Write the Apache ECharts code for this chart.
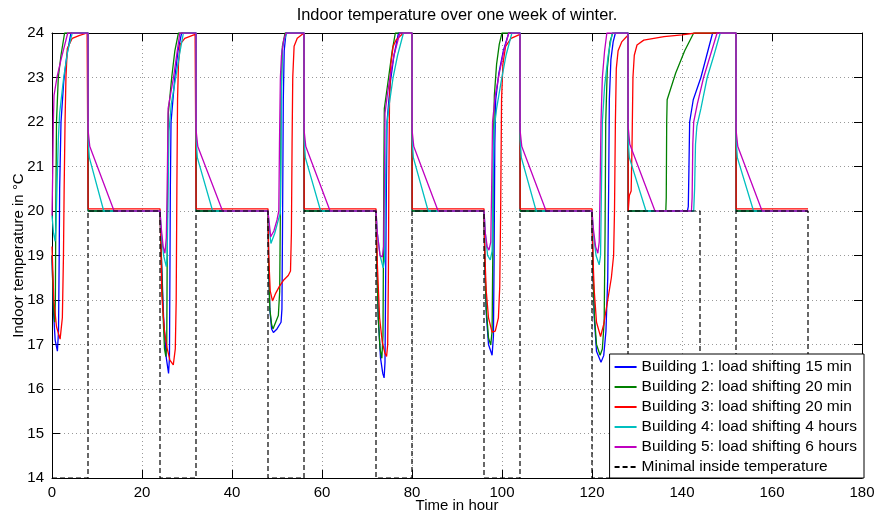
<!DOCTYPE html>
<html>
<head>
<meta charset="utf-8">
<script src="https://cdn.jsdelivr.net/npm/echarts/dist/echarts.min.js"></script>
<style>
html,body{margin:0;padding:0;background:#fff;}
#chart{width:880px;height:516px;}
</style>
</head>
<body>
<div id="chart"></div>
<script>
// ---- data (time in hour, indoor temperature in °C) ----
const titleText = 'Indoor temperature over one week of winter.';
const xName = 'Time in hour';
const yName = 'Indoor temperature in °C';
const seriesNames = [
  'Building 1: load shifting 15 min',
  'Building 2: load shifting 20 min',
  'Building 3: load shifting 20 min',
  'Building 4: load shifting 4 hours',
  'Building 5: load shifting 6 hours',
  'Minimal inside temperature'
];
const xTicks = [0, 20, 40, 60, 80, 100, 120, 140, 160, 180];
const yTicks = [14, 15, 16, 17, 18, 19, 20, 21, 22, 23, 24];

const building1 = [
  [0,19.0],[0.3,17.8],[0.7,17.1],[1.2,16.85],[1.45,17.3],[1.6,19.0],[1.7,20.5],[2.0,22.0],[2.6,22.9],[3.3,23.5],[4.2,24.0],[8,24.0],[8.03,20.0],
  [24,20.0],[24.3,19.0],[24.8,17.6],[25.4,16.7],[25.9,16.35],[26.1,16.7],[26.2,18.5],[26.3,20.5],[26.45,22.0],[27.3,23.0],[28.0,23.6],[28.8,24.0],[32,24.0],[32.03,20.0],
  [48,20.0],[48.15,18.8],[48.4,17.8],[48.8,17.35],[49.2,17.27],[50.0,17.35],[50.9,17.5],[51.1,17.8],[51.25,20.0],[51.4,22.5],[51.6,23.6],[52.0,24.0],[56,24.0],[56.03,20.0],
  [72,20.0],[72.2,18.8],[72.5,17.6],[73.0,16.7],[73.5,16.35],[73.8,16.25],[74.0,16.6],[74.15,18.5],[74.3,20.5],[74.45,22.0],[75.2,22.9],[76.0,23.5],[77.0,24.0],[80,24.0],[80.03,20.0],
  [96,20.0],[96.2,18.8],[96.5,17.7],[97.0,17.0],[97.8,16.76],[98.1,17.2],[98.25,19.0],[98.4,21.5],[98.6,22.5],[99.3,23.1],[100.3,23.6],[101.5,24.0],[104,24.0],[104.03,20.0],
  [120,20.0],[120.2,18.8],[120.5,17.6],[121.0,16.85],[122.0,16.6],[122.6,16.75],[123.1,17.3],[123.5,18.5],[123.7,20.5],[123.85,22.5],[124.2,23.4],[124.7,23.8],[125.2,24.0],[128,24.0],[128.03,20.0],
  [141.2,20.0],[141.4,20.1],[141.55,21.0],[141.7,22.0],[142.5,22.5],[144.2,23.0],[145.5,23.5],[146.8,24.0],[152,24.0],[152.03,20.0],[168,20.0]
];
const building2 = [
  [0,19.0],[0.3,17.9],[0.6,17.5],[0.75,18.0],[0.85,20.0],[1.0,22.0],[1.4,23.0],[2.0,23.5],[2.8,24.0],[8,24.0],[8.03,20.0],
  [24,20.0],[24.3,19.0],[24.7,17.6],[25.0,16.9],[25.3,16.73],[25.5,17.0],[25.6,19.0],[25.7,21.0],[25.85,22.2],[26.6,23.0],[27.3,23.6],[28.1,24.0],[32,24.0],[32.03,20.0],
  [48,20.0],[48.15,18.8],[48.4,17.8],[48.8,17.45],[49.1,17.35],[49.7,17.5],[50.3,17.65],[50.6,18.2],[50.75,20.0],[50.9,22.5],[51.2,23.7],[51.8,24.0],[56,24.0],[56.03,20.0],
  [72,20.0],[72.2,18.8],[72.5,17.6],[72.9,16.9],[73.3,16.69],[73.55,17.2],[73.65,19.0],[73.75,21.0],[73.85,22.3],[74.8,23.0],[75.6,23.6],[76.3,24.0],[80,24.0],[80.03,20.0],
  [96,20.0],[96.2,18.8],[96.5,17.8],[97.0,17.15],[97.5,16.99],[97.8,17.3],[97.95,19.0],[98.1,21.5],[98.3,22.6],[98.8,23.3],[99.4,23.75],[100.0,24.0],[104,24.0],[104.03,20.0],
  [120,20.0],[120.2,18.8],[120.5,17.7],[121.0,17.0],[121.8,16.76],[122.3,16.9],[122.7,17.5],[122.9,19.5],[123.05,22.0],[123.4,23.2],[124.0,23.8],[124.6,24.0],[128,24.0],[128.03,20.0],
  [136.4,20.0],[136.5,20.3],[136.6,22.0],[136.7,22.5],[138.6,23.1],[140.6,23.6],[142.6,24.0],[152,24.0],[152.03,20.0],[168,20.0]
];
const building3 = [
  [0,19.2],[0.4,18.0],[1.0,17.4],[1.8,17.12],[2.3,17.6],[2.55,19.0],[2.7,20.5],[2.9,22.0],[3.1,23.0],[3.4,23.65],[4.5,23.88],[6,23.94],[7.8,24.0],[8,24.0],[8.03,20.05],
  [24,20.05],[24.2,19.2],[24.4,18.1],[25.0,17.3],[25.5,16.95],[26.2,16.65],[26.95,16.54],[27.4,16.9],[27.6,18.0],[27.75,20.5],[27.9,22.5],[28.1,23.3],[28.5,23.75],[29.5,23.88],[31.8,23.97],[32,24.0],[32.03,20.05],
  [48,20.05],[48.15,19.0],[48.5,18.2],[49.0,17.98],[49.3,17.96],[49.7,18.15],[50.5,18.3],[51.5,18.45],[52.5,18.55],[53.0,18.65],[53.2,19.5],[53.35,21.5],[53.5,23.0],[53.8,23.7],[54.5,23.88],[56,24.0],[56.03,20.05],
  [72,20.05],[72.3,18.8],[72.8,17.6],[73.4,17.05],[74.0,16.8],[74.35,16.73],[74.6,17.0],[74.75,18.5],[74.85,20.5],[75.0,22.5],[75.3,23.3],[75.8,23.7],[76.5,23.85],[78.1,24.0],[80,24.0],[80.03,20.05],
  [96,20.05],[96.2,19.0],[96.5,18.2],[97.0,17.6],[97.8,17.28],[98.5,17.3],[99.2,17.6],[99.5,18.3],[99.7,20.0],[99.9,22.5],[100.2,23.3],[100.8,23.7],[102,23.88],[104,23.97],[104.03,20.05],
  [120,20.05],[120.2,19.0],[120.5,18.2],[121.0,17.5],[121.9,17.18],[122.6,17.45],[123.5,18.0],[124.3,18.5],[124.8,19.0],[125.0,20.0],[125.2,22.0],[125.4,23.2],[125.8,23.6],[126.6,23.8],[127.5,23.9],[128,23.95],[128.05,20.0],
  [128.3,20.35],[128.7,20.45],[128.9,21.5],[129.1,23.0],[129.4,23.5],[130,23.73],[131.5,23.84],[136,23.92],[140,23.96],[143,24.0],[152,24.0],[152.03,20.05],[168,20.05]
];
const building4 = [
  [0,19.9],[0.35,19.5],[0.7,19.32],[0.9,19.7],[1.1,20.5],[1.4,21.6],[1.7,22.2],[2.6,23.0],[3.5,23.6],[4.5,24.0],[8,24.0],[8.03,21.6],[8.3,21.2],[11.5,20.0],
  [24,20.0],[24.3,19.5],[24.8,19.0],[25.4,18.75],[25.6,19.0],[25.8,20.5],[26.0,21.8],[26.5,22.4],[27.5,23.0],[28.3,23.5],[29.2,24.0],[32,24.0],[32.03,21.6],[32.3,21.2],[35.7,20.0],
  [48,20.0],[48.2,19.7],[48.65,19.27],[49.5,19.5],[50.3,19.8],[50.75,19.95],[50.9,21.5],[51.1,23.6],[51.6,23.85],[52.2,24.0],[56,24.0],[56.03,21.6],[56.3,21.2],[59.7,20.0],
  [72,20.0],[72.3,19.5],[72.9,19.0],[73.6,18.72],[73.9,18.9],[74.1,20.5],[74.3,21.8],[74.8,22.3],[75.8,23.0],[76.8,23.5],[78.1,24.0],[80,24.0],[80.03,21.6],[80.3,21.2],[83.6,20.0],
  [96,20.0],[96.3,19.5],[96.8,19.0],[97.4,18.9],[97.8,19.1],[98.0,20.5],[98.2,21.8],[98.8,22.3],[99.8,22.9],[100.9,23.5],[102.2,24.0],[104,24.0],[104.03,21.6],[104.3,21.2],[107.6,20.0],
  [120,20.0],[120.3,19.5],[120.9,19.0],[121.6,18.79],[121.9,19.0],[122.1,20.5],[122.3,22.0],[122.8,22.8],[123.6,23.5],[124.5,24.0],[128,24.0],[128.03,21.6],[128.3,21.2],[132.0,20.0],
  [142.6,20.0],[142.8,20.5],[143.0,21.5],[143.3,21.9],[144.2,22.3],[145.6,23.0],[147.1,23.5],[148.5,24.0],[152,24.0],[152.03,21.6],[152.3,21.2],[155.9,20.0],[168,20.0]
];
const building5 = [
  [0,19.9],[0.15,20.8],[0.3,22.0],[0.45,22.6],[1.1,23.0],[2.0,23.4],[3.5,24.0],[8,24.0],[8.03,21.8],[8.4,21.45],[13.8,20.0],
  [24,20.0],[24.3,19.6],[24.7,19.2],[25.1,19.05],[25.4,19.4],[25.6,20.5],[25.8,22.3],[26.3,22.6],[27.0,23.0],[27.7,23.5],[28.4,24.0],[32,24.0],[32.03,21.8],[32.4,21.45],[37.9,20.0],
  [48,20.0],[48.2,19.8],[48.6,19.42],[49.3,19.55],[50.0,19.8],[50.4,20.0],[50.55,21.5],[50.75,23.0],[51.0,23.5],[51.5,23.85],[52.0,24.0],[56,24.0],[56.03,21.8],[56.4,21.45],[61.8,20.0],
  [72,20.0],[72.3,19.5],[72.9,19.0],[73.4,18.97],[73.7,19.2],[73.85,20.5],[74.0,22.2],[74.5,22.6],[75.1,23.0],[76.0,23.5],[77.3,24.0],[80,24.0],[80.03,21.8],[80.4,21.45],[85.8,20.0],
  [96,20.0],[96.3,19.5],[96.7,19.2],[97.1,19.12],[97.5,19.3],[97.7,20.5],[97.9,22.0],[98.5,22.6],[99.4,23.1],[100.4,23.6],[101.5,24.0],[104,24.0],[104.03,21.8],[104.4,21.45],[109.8,20.0],
  [120,20.0],[120.3,19.6],[120.8,19.2],[121.3,19.05],[121.6,19.3],[121.8,20.5],[122.0,22.0],[122.3,23.0],[122.8,23.6],[123.3,24.0],[128,24.0],[128.03,21.9],[128.4,21.5],[134.0,20.0],
  [142.1,20.0],[142.25,20.3],[142.4,21.5],[142.6,22.0],[143.4,22.4],[144.8,23.0],[146.3,23.5],[147.8,24.0],[152,24.0],[152.03,21.8],[152.4,21.45],[157.8,20.0],[168,20.0]
];
const minimalTemp = [
  [0,14],[8,14],[8,20],[24,20],[24,14],[32,14],[32,20],[48,20],[48,14],[56,14],[56,20],[72,20],[72,14],[80,14],[80,20],
  [96,20],[96,14],[104,14],[104,20],[120,20],[120,14],[128,14],[128,20],[144,20],[144,14],[152,14],[152,20],[168,20],[168,14]
];

// ---- chart ----
const FONT = '"Liberation Sans", Arial, Helvetica, sans-serif';
const colors = ['#0000ff', '#008000', '#ff0000', '#00bfbf', '#bf00bf', '#000000'];
const allData = [building1, building2, building3, building4, building5, minimalTemp];

const chart = echarts.init(document.getElementById('chart'), null, {renderer: 'canvas'});

const series = allData.map((d, i) => ({
  name: seriesNames[i],
  type: 'line',
  data: d,
  symbol: 'none',
  showSymbol: false,
  smooth: false,
  animation: false,
  legendIcon: 'none',
  xAxisIndex: 0,
  yAxisIndex: 0,
  lineStyle: {
    color: colors[i],
    width: i === 5 ? 1.2 : 1.3,
    type: i === 5 ? [5, 3] : 'solid'
  },
  itemStyle: {color: colors[i]},
  z: 2 + i
}));

const axisCommon = {
  axisLine: {show: true, onZero: false, lineStyle: {color: '#000', width: 1}},
  axisTick: {show: true, inside: true, length: 8, lineStyle: {color: '#000', width: 1}},
};

const option = {
  animation: false,
  backgroundColor: '#fff',
  textStyle: {fontFamily: FONT},
  title: {
    text: titleText,
    left: 452,
    top: 2,
    textAlign: 'center',
    textStyle: {fontFamily: FONT, fontSize: 16.4, fontWeight: 'normal', color: '#000'}
  },
  grid: {left: 52, right: 18, top: 33, bottom: 38, containLabel: false, outerBoundsMode: 'none'},
  legend: {
    orient: 'vertical',
    right: 16,
    bottom: 38,
    data: seriesNames,
    itemWidth: 22,
    itemHeight: 10,
    itemGap: 0,
    padding: [3, 7, 1, 4],
    borderColor: '#000',
    borderWidth: 1,
    backgroundColor: '#fff',
    itemStyle: {opacity: 0},
    textStyle: {fontFamily: FONT, fontSize: 15.5, color: '#000', lineHeight: 20},
    z: 20
  },
  xAxis: [
    Object.assign({
      type: 'value', min: 0, max: 180, interval: 20, position: 'bottom',
      name: xName, nameLocation: 'middle', nameGap: 20, nameMoveOverlap: false,
      nameTextStyle: {fontFamily: FONT, fontSize: 15, color: '#000'},
      axisLabel: {color: '#000', fontSize: 15, margin: 7, fontFamily: FONT,
        formatter: v => xTicks.includes(v) ? String(v) : ''},
      splitLine: {show: true, lineStyle: {color: '#999', width: 1, type: [1, 3]}}
    }, axisCommon),
    Object.assign({
      type: 'value', min: 0, max: 180, interval: 20, position: 'top',
      axisLabel: {show: false}, splitLine: {show: false}
    }, axisCommon)
  ],
  yAxis: [
    Object.assign({
      type: 'value', min: 14, max: 24, interval: 1, position: 'left',
      name: yName, nameLocation: 'middle', nameGap: 26, nameMoveOverlap: false,
      nameTextStyle: {fontFamily: FONT, fontSize: 15, color: '#000'},
      axisLabel: {color: '#000', fontSize: 15, margin: 8, fontFamily: FONT,
        formatter: v => yTicks.includes(v) ? String(v) : ''},
      splitLine: {show: true, lineStyle: {color: '#999', width: 1, type: [1, 3]}}
    }, axisCommon),
    Object.assign({
      type: 'value', min: 14, max: 24, interval: 1, position: 'right',
      axisLabel: {show: false}, splitLine: {show: false}
    }, axisCommon)
  ],
  series: series
};

chart.setOption(option);
</script>
</body>
</html>
